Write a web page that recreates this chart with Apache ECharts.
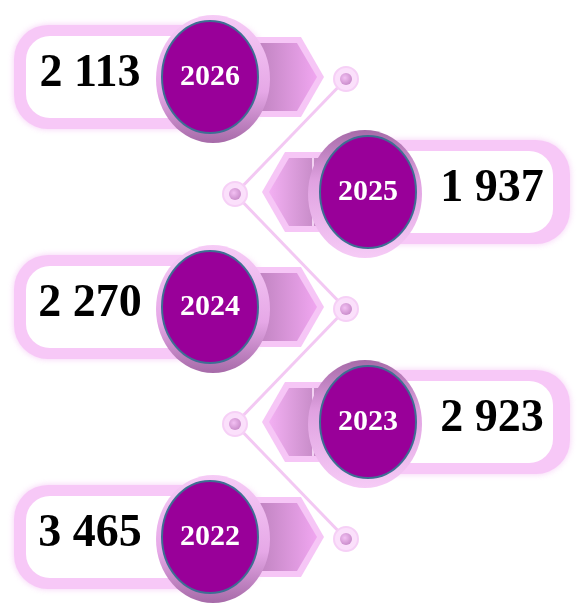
<!DOCTYPE html>
<html>
<head>
<meta charset="utf-8">
<script src="https://cdn.jsdelivr.net/npm/echarts@6/dist/echarts.min.js"></script>
<style>
  html, body { margin: 0; padding: 0; background: #fff; }
  #chart { width: 584px; height: 607px; }
</style>
</head>
<body>
<div id="chart"></div>
<script>
// data, top row first
const years = ['2026', '2025', '2024', '2023', '2022'];
const values = [2113, 1937, 2270, 2923, 3465];

const seriesData = years.map((y, i) => [y, values[i]]);

function fmt(v) {
  return String(v).replace(/\B(?=(\d{3})+(?!\d))/g, ' ');
}

function renderItem(params, api) {
  const i = params.dataIndex;
  const cy = api.coord([0, api.value(0)])[1];
  const left = i % 2 === 0; // value box on the left side
  const cx = left ? 210 : 368;
  const nodeX = left ? 346 : 235;
  const children = [];

  // connector to the next node
  if (i < years.length - 1) {
    const ny = api.coord([0, i + 1])[1];
    children.push({
      type: 'line', z2: 0,
      shape: { x1: nodeX, y1: cy + 2, x2: left ? 235 : 346, y2: ny + 2 },
      style: { stroke: '#f3c8f3', lineWidth: 3 }
    });
  }
  // node
  children.push({
    type: 'circle', z2: 1,
    shape: { cx: nodeX, cy: cy + 2, r: 12 },
    style: { fill: '#fbe0fb', stroke: '#f6d0f6', lineWidth: 2 }
  });
  children.push({
    type: 'circle', z2: 2,
    shape: { cx: nodeX, cy: cy + 2, r: 6 },
    style: {
      fill: new echarts.graphic.RadialGradient(0.4, 0.4, 0.7, [
        { offset: 0, color: '#f3c0f3' }, { offset: 1, color: '#c587c6' }
      ])
    }
  });

  // pill
  if (left) {
    children.push({
      type: 'rect', z2: 3,
      shape: { x: 14, y: cy - 52, width: 250, height: 104, r: 34 },
      style: { fill: '#f7c8f7', shadowBlur: 6, shadowColor: 'rgba(240,170,240,0.6)' }
    });
    children.push({
      type: 'rect', z2: 4,
      shape: { x: 26, y: cy - 41, width: 228, height: 82, r: 24 },
      style: { fill: '#fff' }
    });
  } else {
    children.push({
      type: 'rect', z2: 3,
      shape: { x: 320, y: cy - 52, width: 250, height: 104, r: 34 },
      style: { fill: '#f7c8f7', shadowBlur: 6, shadowColor: 'rgba(240,170,240,0.6)' }
    });
    children.push({
      type: 'rect', z2: 4,
      shape: { x: 332, y: cy - 41, width: 221, height: 82, r: 24 },
      style: { fill: '#fff' }
    });
  }

  // arrow tab
  if (left) {
    children.push({
      type: 'polygon', z2: 5,
      shape: { points: [[235, cy - 40], [301, cy - 40], [324, cy], [301, cy + 40], [235, cy + 40]] },
      style: { fill: '#f6c6f6' }
    });
    children.push({
      type: 'polygon', z2: 6,
      shape: { points: [[235, cy - 34], [297, cy - 34], [317, cy], [297, cy + 34], [235, cy + 34]] },
      style: {
        fill: new echarts.graphic.LinearGradient(0, 0, 1, 0, [
          { offset: 0, color: '#ad76ae' }, { offset: 1, color: '#f0a6f0' }
        ])
      }
    });
  } else {
    children.push({
      type: 'polygon', z2: 5,
      shape: { points: [[262, cy], [285, cy - 40], [350, cy - 40], [350, cy + 40], [285, cy + 40]] },
      style: { fill: '#f6c6f6' }
    });
    children.push({
      type: 'polygon', z2: 6,
      shape: { points: [[269, cy], [289, cy - 34], [350, cy - 34], [350, cy + 34], [289, cy + 34]] },
      style: {
        fill: new echarts.graphic.LinearGradient(0, 0, 1, 0, [
          { offset: 0, color: '#f3b0f3' }, { offset: 0.8, color: '#b47cb5' }, { offset: 1, color: '#a870a9' }
        ])
      }
    });
    children.push({
      type: 'line', z2: 7,
      shape: { x1: 313, y1: cy - 34, x2: 313, y2: cy + 34 },
      style: { stroke: '#f2d2f2', lineWidth: 2 }
    });
  }

  // halo behind the year circle
  children.push({
    type: 'ellipse', z2: 8,
    shape: { cx: cx + (left ? 3 : -3), cy: cy + 2, rx: 57, ry: 64 },
    style: {
      fill: new echarts.graphic.LinearGradient(0, 0, 0, 1, left ? [
        { offset: 0, color: '#f6cbf6' }, { offset: 0.6, color: '#e6a8e7' }, { offset: 1, color: '#a66aa8' }
      ] : [
        { offset: 0, color: '#a66aa8' }, { offset: 0.4, color: '#e0a2e1' }, { offset: 1, color: '#f6cbf6' }
      ])
    }
  });
  // year circle
  children.push({
    type: 'ellipse', z2: 9,
    shape: { cx: cx, cy: cy, rx: 48, ry: 56 },
    style: { fill: '#990099', stroke: '#3e6e93', lineWidth: 2 }
  });
  children.push({
    type: 'text', z2: 10,
    x: cx, y: cy,
    style: {
      text: years[i],
      font: 'bold 30px "Liberation Serif"',
      fill: '#fff', align: 'center', verticalAlign: 'middle'
    }
  });
  // value
  children.push({
    type: 'text', z2: 10,
    x: left ? 90 : 492, y: cy - 3,
    style: {
      text: fmt(api.value(1)),
      font: 'bold 46px "Liberation Serif"',
      fill: '#000', align: 'center', verticalAlign: 'middle'
    }
  });

  return { type: 'group', children: children };
}

const chart = echarts.init(document.getElementById('chart'));
chart.setOption({
  backgroundColor: '#fff',
  animation: false,
  grid: { left: 0, right: 0, top: 19.5, bottom: 12.5 },
  xAxis: { type: 'value', min: 0, max: 584, show: false },
  yAxis: { type: 'category', data: years, inverse: true, show: false },
  series: [{
    type: 'custom',
    renderItem: renderItem,
    encode: { x: 1, y: 0 },
    data: seriesData
  }]
});
</script>
</body>
</html>
